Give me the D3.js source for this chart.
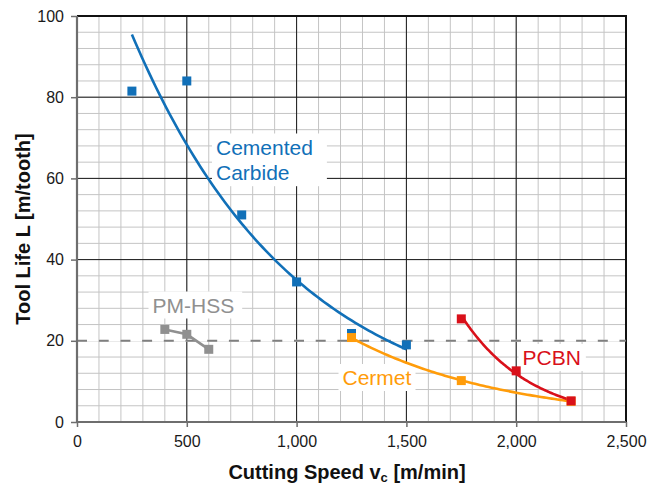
<!DOCTYPE html>
<html><head><meta charset="utf-8">
<script src="https://cdn.jsdelivr.net/npm/d3@7"></script>
<style>
html,body{margin:0;padding:0;background:#fff;}
svg{display:block;font-family:"Liberation Sans",Arial,sans-serif;}
</style></head>
<body>
<svg id="chart" width="661" height="488"></svg>
<script>
// ---------- data ----------
const carbideSpeed = [250, 500, 750, 1000, 1250, 1500];
const carbideLife  = [81.5, 84, 51, 34.5, 21.8, 19];
const cermetSpeed  = [1250, 1750, 2250];
const cermetLife   = [20.8, 10.2, 5.1];
const pcbnSpeed    = [1750, 2000, 2250];
const pcbnLife     = [25.4, 12.6, 5.2];
const hssSpeed     = [400, 500, 600];
const hssLife      = [22.8, 21.6, 17.9];
const limitLife    = 20;
const xTicks = [0, 500, 1000, 1500, 2000, 2500];
const yTicks = [0, 20, 40, 60, 80, 100];
const xTitle = ["Cutting Speed v", "c", " [m/min]"];
const yTitle = "Tool Life L [m/tooth]";

const col = {carbide:"#1170b8", cermet:"#ff9c0a", pcbn:"#d9101a", hss:"#909090"};

const svg = d3.select("#chart");
const x = d3.scaleLinear().domain([0, 2500]).range([77, 626]);
const y = d3.scaleLinear().domain([0, 100]).range([422, 16]);

// ---------- grid ----------
const g = svg.append("g");
g.selectAll(".vmin").data(d3.range(0, 2501, 100)).join("line")
  .attr("x1", d => x(d)).attr("x2", d => x(d)).attr("y1", y(0)).attr("y2", y(100))
  .attr("stroke", "#c4c4c4").attr("stroke-width", 1);
g.selectAll(".hmin").data(d3.range(0, 101, 4)).join("line")
  .attr("x1", x(0)).attr("x2", x(2500)).attr("y1", d => y(d)).attr("y2", d => y(d))
  .attr("stroke", "#c4c4c4").attr("stroke-width", 1);
g.selectAll(".vmaj").data(xTicks).join("line")
  .attr("x1", d => x(d)).attr("x2", d => x(d)).attr("y1", y(0)).attr("y2", y(100))
  .attr("stroke", "#1a1a1a").attr("stroke-width", 1);
g.selectAll(".hmaj").data(yTicks).join("line")
  .attr("x1", x(0)).attr("x2", x(2500)).attr("y1", d => y(d)).attr("y2", d => y(d))
  .attr("stroke", "#1a1a1a").attr("stroke-width", 1);

// border top/right
svg.append("path")
  .attr("d", `M${x(0)},${y(100)}H${x(2500)}V${y(0)}`)
  .attr("fill", "none").attr("stroke", "#111").attr("stroke-width", 2);

// ---------- labels with white boxes ----------
function label(lines, px, py, color, padR) {
  const t = svg.append("text").attr("font-size", 21).attr("fill", color);
  lines.forEach((s, i) => t.append("tspan").attr("x", px).attr("y", py + i * 25.7).text(s));
  const b = t.node().getBBox();
  svg.insert("rect", () => t.node())
    .attr("x", b.x - 4).attr("y", b.y - 2).attr("width", b.width + 4 + padR).attr("height", b.height + 4)
    .attr("fill", "#fff");
}

// dashed limit line (white underlay hides the grid line in the gaps)
svg.append("line")
  .attr("x1", x(0) + 1).attr("x2", x(2500) - 1).attr("y1", y(limitLife)).attr("y2", y(limitLife))
  .attr("stroke", "#fff").attr("stroke-width", 2);
svg.append("line")
  .attr("x1", x(0)).attr("x2", x(2500)).attr("y1", y(limitLife)).attr("y2", y(limitLife))
  .attr("stroke", "#7f7f7f").attr("stroke-width", 2).attr("stroke-dasharray", "10,11.7");

label(["Cemented", "Carbide"], 216, 154.5, col.carbide, 14);
label(["PM-HSS"], 152.5, 312.5, col.hss, 8);
label(["PCBN"], 522.5, 365, col.pcbn, 5);
label(["Cermet"], 342.5, 385, col.cermet, 4);

// ---------- axes ----------
const yAxis = svg.append("g").attr("transform", `translate(${x(0)},0)`)
  .call(d3.axisLeft(y).tickValues(yTicks).tickSize(6).tickPadding(7).tickFormat(d3.format(",")));
const xAxis = svg.append("g").attr("transform", `translate(0,${y(0)})`)
  .call(d3.axisBottom(x).tickValues(xTicks).tickSize(5).tickPadding(9).tickFormat(d3.format(",")));
[yAxis, xAxis].forEach(a => {
  a.select(".domain").attr("stroke", "#6e6e6e").attr("stroke-width", 2.2);
  a.selectAll(".tick line").attr("stroke", "#6e6e6e").attr("stroke-width", 1.5);
  a.selectAll("text").attr("font-size", 16).attr("fill", "#1a1a1a")
    .attr("font-family", "'Liberation Sans',Arial,sans-serif");
});
yAxis.select(".domain").attr("d", `M0,${y(100)}V${y(0)}`);
xAxis.select(".domain").attr("d", `M${x(0)},0H${x(2500)}`);

// ---------- trend lines (exponential least-squares fit, like spreadsheet trendline) ----------
function expFit(xs, ys) {
  const ly = ys.map(Math.log);
  const mx = d3.mean(xs), my = d3.mean(ly);
  const b = d3.sum(xs, (v, i) => (v - mx) * (ly[i] - my)) / d3.sum(xs, v => (v - mx) ** 2);
  const a = my - b * mx;
  return v => Math.exp(a + b * v);
}
function trend(xs, ys, color) {
  const f = expFit(xs, ys);
  const ext = d3.extent(xs);
  const pts = d3.range(ext[0], ext[1] + 0.001, (ext[1] - ext[0]) / 80).map(v => [v, f(v)]);
  svg.append("path").datum(pts)
    .attr("d", d3.line().x(d => x(d[0])).y(d => y(d[1])))
    .attr("fill", "none").attr("stroke", color).attr("stroke-width", 2.6);
}
function markers(xs, ys, color) {
  svg.append("g").selectAll("rect").data(xs.map((v, i) => [v, ys[i]])).join("rect")
    .attr("x", d => x(d[0]) - 4.5).attr("y", d => y(d[1]) - 4.5)
    .attr("width", 9).attr("height", 9).attr("fill", color);
}

trend(carbideSpeed, carbideLife, col.carbide);
trend(cermetSpeed, cermetLife, col.cermet);
trend(pcbnSpeed, pcbnLife, col.pcbn);
svg.append("path").datum(hssSpeed.map((v, i) => [v, hssLife[i]]))
  .attr("d", d3.line().x(d => x(d[0])).y(d => y(d[1])))
  .attr("fill", "none").attr("stroke", col.hss).attr("stroke-width", 2.6);

markers(carbideSpeed, carbideLife, col.carbide);
markers(hssSpeed, hssLife, col.hss);
markers(cermetSpeed, cermetLife, col.cermet);
markers(pcbnSpeed, pcbnLife, col.pcbn);

// ---------- titles ----------
const xt = svg.append("text").attr("x", 347).attr("y", 479).attr("text-anchor", "middle")
  .attr("font-size", 20).attr("font-weight", "bold").attr("fill", "#111");
xt.append("tspan").text(xTitle[0]);
xt.append("tspan").attr("font-size", 13).attr("dy", 3).text(xTitle[1]);
xt.append("tspan").attr("dy", -3).text(xTitle[2]);

svg.append("text").attr("transform", "translate(29.5,229) rotate(-90)")
  .attr("text-anchor", "middle").attr("font-size", 20).attr("font-weight", "bold")
  .attr("fill", "#111").text(yTitle);
</script>
</body></html>
